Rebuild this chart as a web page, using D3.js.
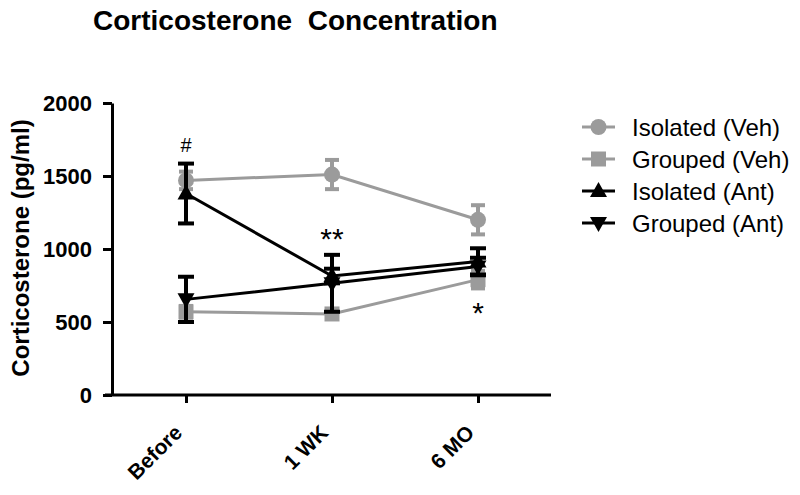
<!DOCTYPE html>
<html><head><meta charset="utf-8">
<script src="https://cdn.jsdelivr.net/npm/d3@7"></script>
<style>body{margin:0;background:#fff}svg{display:block;font-family:"Liberation Sans",Arial,sans-serif}</style>
</head><body><svg id="c" width="800" height="495"></svg>
<script>
const categories = ["Before", "1 WK", "6 MO"];
const yTicks = [0, 500, 1000, 1500, 2000];
const seriesNames = ["Isolated (Veh)", "Grouped (Veh)", "Isolated (Ant)", "Grouped (Ant)"];
const isolatedVeh = [1470, 1510, 1200];
const isolatedVehErr = [60, 100, 100];
const groupedVeh = [570, 555, 790];
const groupedVehErr = [40, 30, 60];
const isolatedAnt = [1380, 815, 915];
const isolatedAntErr = [205, 50, 90];
const groupedAnt = [655, 765, 880];
const groupedAntErr = [155, 195, 60];
const annotations = [
  {cat: "Before", value: 1665, text: "#"},
  {cat: "1 WK", value: 1000, text: "**"},
  {cat: "6 MO", value: 490, text: "*"}
];

const svg = d3.select("#c");
const gray = "#9b9b9b";
const FONT = "Liberation Sans, Arial, sans-serif";
const x = d3.scalePoint().domain(categories).range([186, 478]);
const y = d3.scaleLinear().domain([0, 2000]).range([395, 103]);

// title
svg.append("text").attr("x", 93).attr("y", 30).attr("font-size", 28).attr("font-weight", "bold")
  .attr("xml:space", "preserve").text("Corticosterone  Concentration");

// y axis
const ya = svg.append("g").attr("transform", "translate(112,0)")
  .call(d3.axisLeft(y).tickValues(yTicks).tickFormat(d3.format("d")).tickSize(9).tickPadding(11).tickSizeOuter(0));
ya.select(".domain").attr("stroke", "#000").attr("stroke-width", 3);
ya.selectAll(".tick line").attr("stroke-width", 3);
ya.selectAll(".tick text").attr("font-size", 22).attr("font-weight", "bold")
  .attr("font-family", FONT).attr("fill", "#000");

// x axis
const xa = svg.append("g").attr("transform", "translate(0,395)")
  .call(d3.axisBottom(x).tickSize(8).tickSizeOuter(0));
xa.select(".domain").attr("d", "M105,0H551").attr("stroke-width", 3);
xa.selectAll(".tick line").attr("stroke-width", 3);
xa.selectAll(".tick text").attr("font-size", 21).attr("font-weight", "bold")
  .attr("font-family", FONT).attr("fill", "#000")
  .attr("text-anchor", "end").attr("dy", null).attr("y", 0)
  .attr("transform", "translate(-3,39) rotate(-45)");

// y label
svg.append("text").attr("transform", "translate(29,248) rotate(-90)")
  .attr("text-anchor", "middle").attr("font-size", 24).attr("font-weight", "bold")
  .text("Corticosterone (pg/ml)");

const series = [
  {name: seriesNames[0], v: isolatedVeh, e: isolatedVehErr, color: gray, sym: "circle", cap: 7},
  {name: seriesNames[1], v: groupedVeh, e: groupedVehErr, color: gray, sym: "square", cap: 7},
  {name: seriesNames[2], v: isolatedAnt, e: isolatedAntErr, color: "#000", sym: "up", cap: 8},
  {name: seriesNames[3], v: groupedAnt, e: groupedAntErr, color: "#000", sym: "down", cap: 8}
];

function drawMarker(g, sym, cx, cy, color) {
  if (sym === "circle") g.append("circle").attr("cx", cx).attr("cy", cy).attr("r", 8).attr("fill", color);
  else if (sym === "square") g.append("rect").attr("x", cx - 7.5).attr("y", cy - 7.5).attr("width", 15).attr("height", 15).attr("fill", color);
  else if (sym === "up") g.append("path").attr("d", `M${cx},${cy - 9}L${cx + 8.5},${cy + 6}L${cx - 8.5},${cy + 6}Z`).attr("fill", color);
  else g.append("path").attr("d", `M${cx},${cy + 9}L${cx + 8.5},${cy - 6}L${cx - 8.5},${cy - 6}Z`).attr("fill", color);
}

const line = d3.line().x((d, i) => x(categories[i])).y(d => y(d));
series.forEach(s => {
  const g = svg.append("g");
  g.append("path").attr("d", line(s.v)).attr("fill", "none").attr("stroke", s.color).attr("stroke-width", 3);
  s.v.forEach((v, i) => {
    const cx = x(categories[i]);
    const t = y(v + s.e[i]), b = y(v - s.e[i]);
    g.append("line").attr("x1", cx).attr("x2", cx).attr("y1", t).attr("y2", b).attr("stroke", s.color).attr("stroke-width", 4);
    [t, b].forEach(yy => g.append("line").attr("x1", cx - s.cap).attr("x2", cx + s.cap).attr("y1", yy).attr("y2", yy).attr("stroke", s.color).attr("stroke-width", 4));
    drawMarker(g, s.sym, cx, y(v), s.color);
  });
});

// annotations
annotations.forEach(a => {
  const big = a.text !== "#";
  svg.append("text").attr("x", x(a.cat)).attr("y", y(a.value))
    .attr("text-anchor", "middle").attr("font-size", big ? 30 : 20)
    .text(a.text);
});

// legend
const lg = svg.append("g");
series.forEach((s, i) => {
  const yy = 127 + i * 32;
  lg.append("line").attr("x1", 582).attr("x2", 615).attr("y1", yy).attr("y2", yy).attr("stroke", s.color).attr("stroke-width", 3);
  drawMarker(lg, s.sym, 598.5, yy, s.color);
  lg.append("text").attr("x", 632).attr("y", yy + 8.5).attr("font-size", 24).text(s.name);
});
</script></body></html>
